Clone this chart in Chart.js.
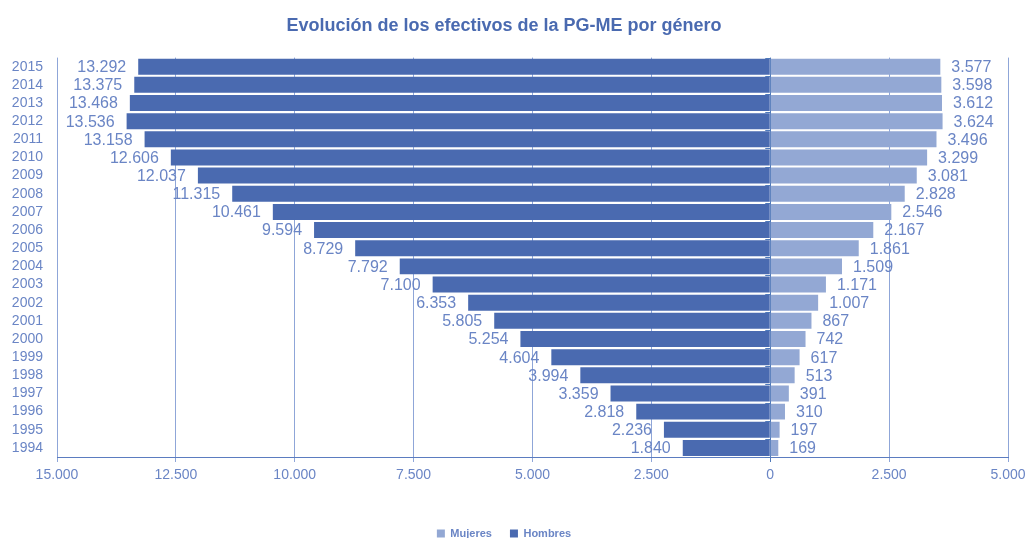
<!DOCTYPE html>
<html lang="es">
<head>
  <meta charset="UTF-8">
  <title>Evolución de los efectivos de la PG-ME por género</title>
  <script src="https://cdn.jsdelivr.net/npm/chart.js"></script>
  <style>
    body { margin: 0; background: white; }
    #chartContainer { width: 1028px; height: 538px; }
  </style>
</head>
<body>
  <div id="chartContainer">
    <canvas id="chart"></canvas>
  </div>

  <script>
    const years = ['1994', '1995', '1996', '1997', '1998', '1999', '2000', '2001', '2002', '2003', '2004',
                   '2005', '2006', '2007', '2008', '2009', '2010', '2011', '2012', '2013', '2014', '2015'];
    const hombres = [1840, 2236, 2818, 3359, 3994, 4604, 5254, 5805, 6353, 7100, 7792,
                     8729, 9594, 10461, 11315, 12037, 12606, 13158, 13536, 13468, 13375, 13292];
    const mujeres = [169, 197, 310, 391, 513, 617, 742, 867, 1007, 1171, 1509,
                     1861, 2167, 2546, 2828, 3081, 3299, 3496, 3624, 3612, 3598, 3577];

    const textColor = '#6a85c5';
    const colorHombres = '#4a6ab0';
    const colorMujeres = '#93a8d4';

    // spanish thousands separator, always grouped
    function fmt(v) {
      return Math.abs(v).toString().replace(/\B(?=(\d{3})+(?!\d))/g, '.');
    }

    // value labels at the end of each bar + small ticks on the zero axis
    const barLabels = {
      id: 'barLabels',
      afterDatasetsDraw(chart) {
        const ctx = chart.ctx;
        const xs = chart.scales.x, ys = chart.scales.y;
        ctx.save();
        const x0 = xs.getPixelForValue(0);
        const step = Math.abs(ys.getPixelForValue(1) - ys.getPixelForValue(0));
        ctx.strokeStyle = '#4f79b9';
        ctx.lineWidth = 1;
        ctx.beginPath();
        for (let i = 0; i <= years.length; i++) {
          const y = Math.round(ys.getPixelForValue(i) + step / 2) + 0.5;
          ctx.moveTo(x0 - 5, y);
          ctx.lineTo(x0, y);
        }
        ctx.stroke();

        ctx.font = '16px "Liberation Sans", Arial, sans-serif';
        ctx.fillStyle = textColor;
        ctx.textBaseline = 'middle';
        chart.data.datasets.forEach((ds, i) => {
          const meta = chart.getDatasetMeta(i);
          meta.data.forEach((bar, j) => {
            const v = ds.data[j];
            if (v < 0) {
              ctx.textAlign = 'right';
              ctx.fillText(fmt(v), bar.x - 12, bar.y + 1);
            } else {
              ctx.textAlign = 'left';
              ctx.fillText(fmt(v), bar.x + 11, bar.y + 1);
            }
          });
        });
        ctx.restore();
      }
    };

    const ctx = document.getElementById('chart').getContext('2d');
    const chart = new Chart(ctx, {
      type: 'bar',
      data: {
        labels: years,
        datasets: [
          {
            label: 'Mujeres',
            data: mujeres,
            backgroundColor: colorMujeres,
            borderWidth: 0,
            barPercentage: 1,
            categoryPercentage: 0.88
          },
          {
            label: 'Hombres',
            data: hombres.map(v => -v),
            backgroundColor: colorHombres,
            borderWidth: 0,
            barPercentage: 1,
            categoryPercentage: 0.88
          }
        ]
      },
      plugins: [barLabels],
      options: {
        indexAxis: 'y',
        responsive: true,
        maintainAspectRatio: false,
        animation: false,
        layout: { padding: { left: 0, right: 20, top: 0, bottom: -11 } },
        plugins: {
          title: {
            display: true,
            text: 'Evolución de los efectivos de la PG-ME por género',
            color: colorHombres,
            font: { family: '"Liberation Sans", Arial, sans-serif', size: 18, weight: 'bold' },
            padding: { top: 15, bottom: 21 }
          },
          legend: {
            position: 'bottom',
            labels: {
              color: textColor,
              boxWidth: 8,
              boxHeight: 8,
              padding: 18,
              font: { family: '"Liberation Sans", Arial, sans-serif', size: 11, weight: 'bold' }
            }
          },
          tooltip: { enabled: false }
        },
        scales: {
          x: {
            stacked: true,
            min: -15000,
            max: 5000,
            ticks: {
              stepSize: 2500,
              color: textColor,
              padding: 5,
              font: { family: '"Liberation Sans", Arial, sans-serif', size: 14 },
              callback: v => fmt(v)
            },
            grid: {
              color: c => (c.tick && c.tick.value === 0) ? '#4f79b9' : '#8fa6d8',
              lineWidth: 1,
              tickLength: 5
            },
            border: { color: '#5b7cc0', width: 1 },
            afterFit: scale => {
              scale.height = 53;
              scale.paddingLeft = 0;
              scale.paddingRight = 0;
            }
          },
          y: {
            stacked: true,
            reverse: true,
            ticks: {
              color: textColor,
              padding: 14,
              autoSkip: false,
              font: { family: '"Liberation Sans", Arial, sans-serif', size: 14 }
            },
            grid: { display: false, drawTicks: false },
            border: { display: false },
            afterFit: scale => { scale.width = 57; }
          }
        }
      }
    });
  </script>
</body>
</html>
